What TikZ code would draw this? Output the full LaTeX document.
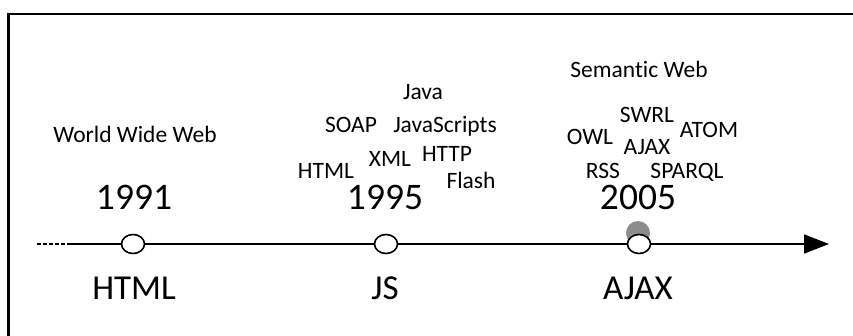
\documentclass[tikz,border=0pt]{standalone}
\usepackage{fontspec}
\setmainfont{Carlito}[Ligatures=CommonOff]
\usetikzlibrary{arrows.meta,shapes.geometric}
\begin{document}
\begin{tikzpicture}[x=1pt,y=-1pt,
  small/.style={font=\fontsize{23.5}{26}\selectfont,inner sep=0pt,anchor=base},
  year/.style={font=\fontsize{37.5}{40}\selectfont,inner sep=0pt,anchor=base},
  tech/.style={font=\fontsize{35}{38}\selectfont,inner sep=0pt,anchor=base},
  dot/.style={ellipse,draw,line width=1.6pt,fill=white,minimum width=23pt,minimum height=19pt,inner sep=0pt},
  axis/.style={line width=1.8pt}]
\useasboundingbox (0,0) rectangle (853,336);
% frame
\coordinate (fl) at (8.5,336);
\coordinate (fc) at (8.5,14);
\coordinate (fr) at (853,14);
\draw[line width=2.6pt] (fl) -- (fc) -- (fr);
% timeline
\coordinate (ds) at (37,244);
\coordinate (de) at (70,244);
\coordinate (tip) at (829,244);
\fill[gray!90] (638,233) circle (12);
\draw[axis,dashed,dash pattern=on 3.5pt off 2.5pt] (ds) -- (de);
\draw[axis,-{Triangle[length=25pt,width=19pt]}] (de) -- (tip);
\node[dot] (c1) at (133,244) {};
\node[dot] (c2) at (386,244) {};
\node[dot] (c3) at (639,244) {};
% years
\node[year] (y1) at (134,210) {1991};
\node[year] (y2) at (385,210) {1995};
\node[year] (y3) at (638,210) {2005};
% techs
\node[tech] (t1) at (134,300) {HTML};
\node[tech] (t2) at (385,300) {JS};
\node[tech] (t3) at (638,300) {AJAX};
% 1991 label
\node[small] (www) at (135,143) {World Wide Web};
% 1995 cluster
\node[small] (java) at (423,100) {Java};
\node[small] (soap) at (351,133) {SOAP};
\node[small] (js) at (445,133) {JavaScripts};
\node[small] (xml) at (390,167) {XML};
\node[small] (http) at (447,162) {HTTP};
\node[small] (html) at (326,179) {HTML};
\node[small] (flash) at (471,189) {Flash};
% 2005 cluster
\node[small] (sem) at (639,78) {Semantic Web};
\node[small] (swrl) at (647,123) {SWRL};
\node[small] (atom) at (709,138) {ATOM};
\node[small] (owl) at (590,145) {OWL};
\node[small] (ajax) at (647,155) {AJAX};
\node[small] (rss) at (603,179) {RSS};
\node[small] (sparql) at (687,179) {SPARQL};
\end{tikzpicture}
\end{document}
